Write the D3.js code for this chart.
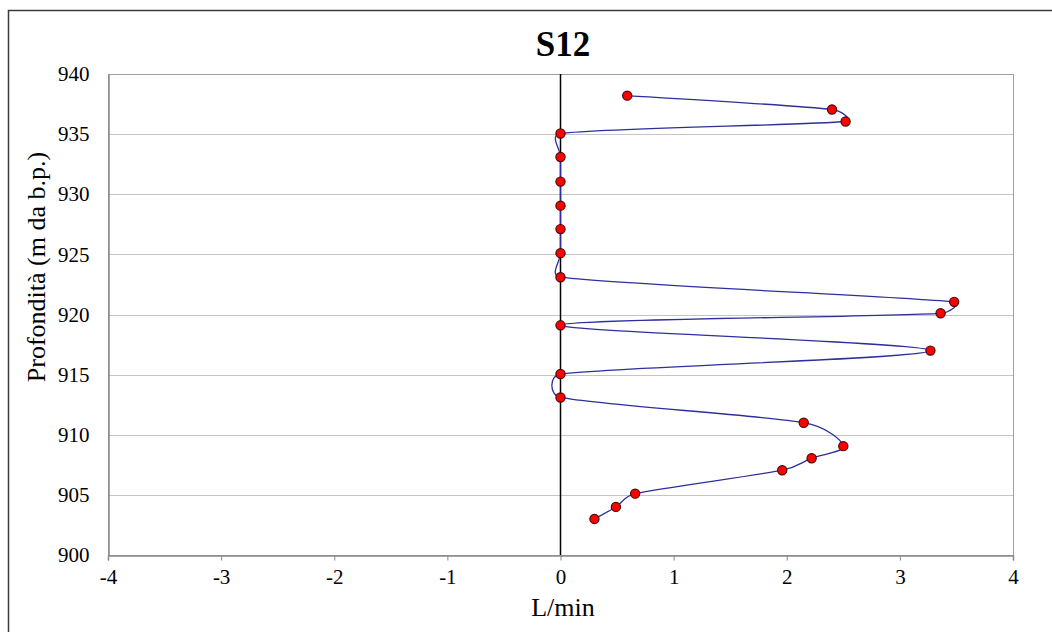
<!DOCTYPE html>
<html>
<head>
<meta charset="utf-8">
<script src="https://cdn.jsdelivr.net/npm/d3@7"></script>
<style>
  body { margin: 0; background: #fff; }
  text { font-family: "Liberation Serif", "Times New Roman", serif; fill: #000; }
  .tick text { font-family: "Liberation Serif", "Times New Roman", serif; font-size: 21px; }
</style>
</head>
<body>
<div id="chart"></div>
<script>
// portata (L/min) per profondità (m da b.p.)
const depths = [938.2, 937.05, 936.05, 935.05, 933.1, 931.05, 929.05, 927.1, 925.1, 923.1,
                921.05, 920.1, 919.1, 917.0, 915.05, 913.1, 911.0, 909.05, 908.05, 907.05,
                905.1, 904.0, 903.0];
const flows = [0.59, 2.40, 2.52, 0, 0, 0, 0, 0, 0, 0,
               3.48, 3.36, 0, 3.27, 0, 0, 2.15, 2.50, 2.22, 1.96,
               0.66, 0.49, 0.30];
const xTicks = [-4, -3, -2, -1, 0, 1, 2, 3, 4];
const yTicks = [900, 905, 910, 915, 920, 925, 930, 935, 940];

const width = 1052, height = 632;
const plot = { left: 108, right: 1013, top: 74, bottom: 555 };
const serif = "'Liberation Serif', 'Times New Roman', serif";

const svg = d3.select("#chart").append("svg")
    .attr("width", width)
    .attr("height", height);

// chart frame
svg.append("rect")
    .attr("x", 8.5).attr("y", 10.5)
    .attr("width", 1060).attr("height", 640)
    .attr("fill", "#fff")
    .attr("stroke", "#3a3a3a")
    .attr("stroke-width", 1.5);

const x = d3.scaleLinear().domain([-4, 4]).range([plot.left, plot.right]);
const y = d3.scaleLinear().domain([900, 940]).range([plot.bottom, plot.top]);

// gridlines
svg.append("g")
    .selectAll("line")
    .data(yTicks)
    .enter().append("line")
    .attr("x1", plot.left).attr("x2", plot.right)
    .attr("y1", d => Math.round(y(d)) + 0.5)
    .attr("y2", d => Math.round(y(d)) + 0.5)
    .attr("stroke", "#c4c4c4")
    .attr("stroke-width", 1);

// plot area border
svg.append("rect")
    .attr("x", plot.left + 0.5).attr("y", plot.top + 0.5)
    .attr("width", plot.right - plot.left).attr("height", plot.bottom - plot.top)
    .attr("fill", "none")
    .attr("stroke", "#a0a0a0")
    .attr("stroke-width", 1);

// x axis
const xAxis = svg.append("g")
    .attr("transform", `translate(0, ${plot.bottom + 0.5})`)
    .call(d3.axisBottom(x).tickValues(xTicks).tickSize(5).tickPadding(9).tickFormat(d3.format("d")))
    .attr("font-family", serif)
    .attr("font-size", 21);
xAxis.select(".domain").attr("stroke", "#888").attr("stroke-width", 1.5);
xAxis.selectAll(".tick line").attr("stroke", "#888");
xAxis.selectAll(".tick text")
    .style("font-size", "21px")
    .style("font-family", serif)
    .text(d => d < 0 ? "-" + Math.abs(d) : String(d));

// y axis
const yAxis = svg.append("g")
    .attr("transform", `translate(${plot.left + 0.5}, 0)`)
    .call(d3.axisLeft(y).tickValues(yTicks).tickSize(0).tickPadding(19).tickFormat(d3.format("d")))
    .attr("font-family", serif)
    .attr("font-size", 21);
yAxis.select(".domain").attr("stroke", "#888").attr("stroke-width", 1.5);
yAxis.selectAll(".tick text")
    .style("font-size", "21px")
    .style("font-family", serif);

// zero line
svg.append("line")
    .attr("x1", x(0)).attr("x2", x(0))
    .attr("y1", plot.top).attr("y2", plot.bottom)
    .attr("stroke", "#000")
    .attr("stroke-width", 1.5);

// smoothed line, spreadsheet-style: bezier with 1/6 tangents, capped at half the segment
const points = depths.map((d, i) => ({ depth: d, flow: flows[i] }));
const px = points.map(p => [x(p.flow), y(p.depth)]);

function smoothPath(pts) {
    const p = d3.path();
    const n = pts.length;
    const dist = (a, b) => Math.hypot(b[0] - a[0], b[1] - a[1]);
    const ctrl = (i, dir) => {
        const prev = pts[Math.max(0, i - 1)], next = pts[Math.min(n - 1, i + 1)];
        const u = [next[0] - prev[0], next[1] - prev[1]];
        const len = Math.hypot(u[0], u[1]) || 1;
        const nb = pts[Math.min(n - 1, Math.max(0, i + dir))];
        const k = Math.min(len / 6, dist(pts[i], nb) / 2) / len;
        return [pts[i][0] + dir * u[0] * k, pts[i][1] + dir * u[1] * k];
    };
    p.moveTo(pts[0][0], pts[0][1]);
    for (let i = 0; i < n - 1; i++) {
        const c1 = ctrl(i, 1), c2 = ctrl(i + 1, -1);
        p.bezierCurveTo(c1[0], c1[1], c2[0], c2[1], pts[i + 1][0], pts[i + 1][1]);
    }
    return p.toString();
}

svg.append("path")
    .attr("d", smoothPath(px))
    .attr("fill", "none")
    .attr("stroke", "#2e2e9c")
    .attr("stroke-width", 1.3);

// markers
svg.append("g")
    .selectAll("circle")
    .data(points)
    .enter().append("circle")
    .attr("cx", d => x(d.flow))
    .attr("cy", d => y(d.depth))
    .attr("r", 4.6)
    .attr("fill", "#ff0000")
    .attr("stroke", "#4a0a0a")
    .attr("stroke-width", 1.2);

// title
svg.append("text")
    .attr("x", 563)
    .attr("y", 56)
    .attr("text-anchor", "middle")
    .attr("font-family", serif)
    .style("font-size", "35px")
    .style("font-weight", "bold")
    .text("S12");

// axis titles
svg.append("text")
    .attr("x", 563)
    .attr("y", 616)
    .attr("text-anchor", "middle")
    .attr("font-family", serif)
    .style("font-size", "26px")
    .text("L/min");

svg.append("text")
    .attr("transform", "translate(45, 267) rotate(-90)")
    .attr("text-anchor", "middle")
    .attr("font-family", serif)
    .style("font-size", "26px")
    .text("Profondità (m da b.p.)");
</script>
</body>
</html>
